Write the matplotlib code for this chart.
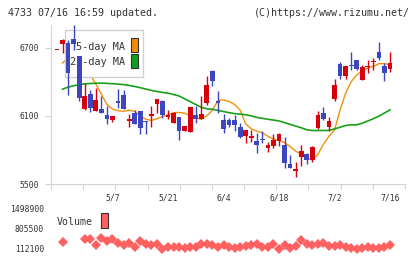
import numpy as np
import matplotlib
matplotlib.use("Agg")
from matplotlib import pyplot as plt
from matplotlib.patches import Rectangle

# daily candles, oldest first (index 0 .. 60)
opens = [6680, 6729, 6741, 6779, 6629, 6162, 6294, 6147, 6162, 6109,
         6065, 6227, 6285, 6059, 6124, 6144, 6056, 6103, 6203, 6227,
         6094, 6041, 6088, 5971, 5962, 6109, 6071, 6212, 6497, 6227,
         6065, 6065, 6065, 6000, 5924, 5909, 5880, 5892, 5821, 5836,
         5880, 5844, 5677, 5618, 5736, 5765, 5712, 5991, 6124, 6006,
         6250, 6559, 6447, 6544, 6594, 6412, 6527, 6571, 6662, 6541,
         6515]
highs = [6680, 6779, 6770, 6903, 6629, 6388, 6330, 6344, 6271, 6188,
         6100, 6335, 6330, 6115, 6153, 6144, 6056, 6183, 6250, 6236,
         6153, 6138, 6088, 6012, 6174, 6188, 6277, 6447, 6506, 6315,
         6118, 6080, 6109, 6041, 5977, 5977, 5947, 5968, 5868, 5941,
         5947, 5912, 5756, 5692, 5844, 5771, 5836, 6144, 6177, 6088,
         6424, 6574, 6541, 6662, 6594, 6550, 6594, 6609, 6750, 6565,
         6662]
lows = [6680, 6653, 6285, 6682, 6227, 6153, 6138, 6147, 6121, 6027,
        6050, 6168, 6162, 6006, 6030, 5939, 5939, 6006, 6124, 6080,
        6071, 6041, 5889, 5971, 5962, 6036, 6071, 6197, 6359, 6124,
        5953, 6000, 5971, 5903, 5865, 5874, 5777, 5859, 5786, 5815,
        5836, 5639, 5645, 5559, 5662, 5674, 5698, 5983, 6065, 5971,
        6227, 6424, 6424, 6500, 6500, 6412, 6477, 6506, 6588, 6403,
        6482]
closes = [6680, 6770, 6474, 6735, 6259, 6271, 6165, 6241, 6121, 6074,
          6100, 6212, 6162, 6074, 6030, 5989, 6047, 6118, 6250, 6109,
          6106, 6124, 5971, 6012, 6174, 6071, 6115, 6374, 6409, 6212,
          5986, 6021, 6021, 5918, 5977, 5924, 5847, 5886, 5844, 5889,
          5941, 5689, 5645, 5633, 5792, 5712, 5830, 6109, 6074, 6059,
          6374, 6447, 6541, 6535, 6512, 6527, 6541, 6585, 6609, 6477,
          6565]

ma5 = [np.nan, 6565, 6610, 6640, 6600, 6530, 6460, 6380, 6290, 6200,
       6160, 6145, 6140, 6150, 6140, 6100, 6070, 6060, 6075, 6094,
       6110, 6128, 6130, 6124, 6100, 6080, 6072, 6100, 6150, 6235,
       6240, 6227, 6200, 6150, 6030, 5985, 5965, 5950, 5920, 5895,
       5885, 5865, 5830, 5790, 5760, 5730, 5712, 5760, 5850, 5920,
       5975, 6150, 6300, 6400, 6460, 6500, 6520, 6535, 6560, 6560,
       6550]
ma25 = [np.nan, 6335, 6353, 6365, 6375, 6382, 6385, 6387, 6388, 6386,
        6383, 6380, 6375, 6368, 6359, 6348, 6336, 6324, 6315, 6307,
        6300, 6288, 6275, 6250, 6225, 6200, 6175, 6162, 6158, 6148,
        6138, 6128, 6120, 6115, 6110, 6100, 6086, 6078, 6070, 6063,
        6055, 6040, 6025, 6010, 5995, 5978, 5971, 5971, 5971, 5972,
        5985, 6000, 6015, 6021, 6021, 6035, 6055, 6075, 6098, 6125,
        6153]

volume = [np.nan, 344000, np.nan, np.nan, np.nan, 448000, 459000, 251000, 483000, 389000,
          448000, 330000, 251000, 330000, 171000, 379000, 285000, 251000, 285000, 112000,
          192000, 192000, 171000, 136000, 171000, 171000, 285000, 285000, 251000, 171000,
          251000, 171000, 136000, 192000, 216000, 251000, 285000, 171000, 192000, 285000,
          112000, 251000, 136000, 216000, 424000, 285000, 240000, 285000, 310000, 216000,
          216000, 251000, 171000, 136000, 102000, 136000, 171000, 136000, 136000, 171000,
          251000]

date_labels = ['5/7', '5/21', '6/4', '6/18', '7/2', '7/16']
date_pos = [10, 20, 30, 40, 50, 60]
price_ticks = [5500, 6100, 6700]
volume_ticks = [112100, 805500, 1498900]

W, H = 420, 259
RED = '#d8000b'
BLUE = '#3c46be'
GRID = '#d4d4d4'
TXT = '#333333'


def fx(px):
    return px / W


def fy(py):
    return 1 - py / H


def main():
    plt.rcParams['font.family'] = 'DejaVu Sans Mono'
    fig = plt.figure(figsize=(4.2, 2.59), dpi=100)

    x = np.arange(len(closes))
    o = np.array(opens)
    c = np.array(closes)
    colors = [RED if cc >= oo else BLUE for oo, cc in zip(o, c)]
    xl = (-1.08, 62.7)

    # price panel
    ax = fig.add_axes([fx(51), fy(184), fx(405) - fx(51), fy(25) - fy(184)])
    ax.plot(x, ma5, color='#f0900a', lw=1.0, zorder=2)
    ax.plot(x, ma25, color='#18a018', lw=1.2, zorder=2)
    ax.vlines(x, lows, highs, colors=colors, lw=1, zorder=4)
    ax.bar(x, np.maximum(np.abs(c - o), 9), width=0.85, bottom=np.minimum(o, c),
           color=colors, linewidth=0, zorder=4)
    ax.set_xlim(*xl)
    ax.set_ylim(5500, 6900)
    for s in ['top', 'right']:
        ax.spines[s].set_visible(False)
    for s in ['left', 'bottom']:
        ax.spines[s].set_color(GRID)
    ax.set_yticks(price_ticks)
    ax.set_yticklabels([str(t) for t in price_ticks])
    ax.tick_params(axis='y', length=4.3, pad=4.3, color=GRID, labelcolor=TXT, labelsize=5.8)
    ax.set_xticks(np.linspace(xl[0], xl[1], 12))
    ax.set_xticklabels([])
    ax.tick_params(axis='x', which='major', length=3.6, color=GRID)
    ax.set_xticks(date_pos, date_labels, minor=True)
    ax.tick_params(axis='x', which='minor', length=0, pad=6.5, labelcolor=TXT, labelsize=5.8)

    # legend, drawn under the candles
    ax.add_patch(Rectangle((fx(65), fy(77)), fx(143) - fx(65), fy(30) - fy(77),
                           transform=fig.transFigure, facecolor='white',
                           edgecolor='#d0d0d0', lw=1, zorder=3))
    for label, col, yc in [('5-day MA', '#f08c10', 46.5), ('25-day MA', '#10a020', 62)]:
        ax.text(fx(125), fy(yc), label, transform=fig.transFigure, ha='right',
                va='center', fontsize=7.3, color=TXT, zorder=3.5)
        ax.add_patch(Rectangle((fx(131), fy(yc + 5.5)), 7 / W, 14 / H,
                               transform=fig.transFigure, facecolor=col,
                               edgecolor='#333333', lw=0.8, zorder=3.5))

    # volume panel
    vax = fig.add_axes([fx(51), fy(253), fx(405) - fx(51), fy(205) - fy(253)])
    vax.plot(x, volume, 'D', ms=5, color='#ff6060', mew=0)
    vax.set_xlim(*xl)
    vax.set_ylim(-26580, 1637580)
    for s in vax.spines.values():
        s.set_visible(False)
    vax.set_xticks([])
    vax.set_yticks(volume_ticks)
    vax.set_yticklabels([str(t) for t in volume_ticks])
    vax.tick_params(axis='y', length=0, pad=5, labelcolor=TXT, labelsize=5.8)
    vax.text(fx(93), fy(222), 'Volume', transform=fig.transFigure, ha='right',
             va='center', fontsize=7.1, color=TXT)
    vax.add_patch(Rectangle((fx(101), fy(228)), 7 / W, 15 / H,
                            transform=fig.transFigure, facecolor='#ff6060',
                            edgecolor='#333333', lw=0.8, clip_on=False))

    fig.text(fx(8), fy(13), '4733 07/16 16:59 updated.', ha='left', va='center',
             fontsize=7.2, color=TXT)
    fig.text(fx(410), fy(13), '(C)https://www.rizumu.net/', ha='right', va='center',
             fontsize=7.2, color=TXT)

    fig.savefig('out.png', dpi=100)


if __name__ == "__main__":
    main()
